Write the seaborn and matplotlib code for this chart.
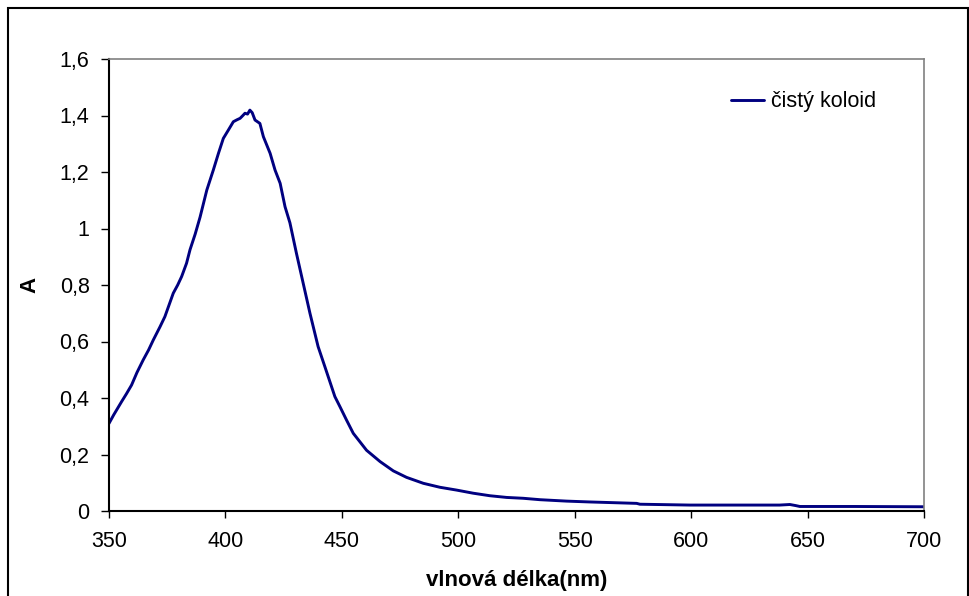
import matplotlib
matplotlib.use("Agg")
import matplotlib.pyplot as plt
from matplotlib.patches import Rectangle
from matplotlib.ticker import FixedLocator, FixedFormatter
import seaborn as sns
import pandas as pd

# Absorption spectrum of the pure colloid
wavelength_nm = [350, 352, 355.4, 357.5, 359.7, 362, 364.7, 367, 369, 371.9, 374,
                 377.6, 379.5, 381.2, 383.3, 384.8, 387, 389.1, 392, 394.8, 397, 399.1,
                 401.3, 403.4, 405, 406.3, 407.5, 408.4, 409.5, 410.5, 411.5, 412.7,
                 414.8, 416.3, 419.2, 421.3, 423.5, 425.6, 427.7, 430.5, 433.4,
                 436.3, 439.8, 442.7, 447, 449.2, 452, 454.9, 460.6, 466.4, 472.1,
                 477.8, 485, 492.1, 499.3, 506.4, 513.6, 520.8, 527.9, 535.1, 546.5,
                 556.5, 576.6, 578, 599.5, 620, 638, 642.4, 645, 646.7, 670, 700]
absorbance = [0.31, 0.34, 0.387, 0.415, 0.446, 0.49, 0.535, 0.57, 0.605, 0.652, 0.688,
              0.771, 0.80, 0.83, 0.877, 0.925, 0.98, 1.04, 1.136, 1.207, 1.266, 1.319,
              1.349, 1.378, 1.385, 1.39, 1.40, 1.408, 1.405, 1.419, 1.41, 1.384,
              1.372, 1.325, 1.266, 1.207, 1.160, 1.077, 1.02, 0.912, 0.806,
              0.700, 0.582, 0.511, 0.405, 0.369, 0.322, 0.275, 0.215, 0.175, 0.142,
              0.119, 0.098, 0.084, 0.074, 0.063, 0.054, 0.048, 0.045, 0.040, 0.035,
              0.032, 0.027, 0.024, 0.021, 0.021, 0.021, 0.023, 0.019, 0.016, 0.016, 0.015]
series_name = "čistý koloid"

x_ticks = [350, 400, 450, 500, 550, 600, 650, 700]
x_tick_labels = ["350", "400", "450", "500", "550", "600", "650", "700"]
y_ticks = [0, 0.2, 0.4, 0.6, 0.8, 1.0, 1.2, 1.4, 1.6]
y_tick_labels = ["0", "0,2", "0,4", "0,6", "0,8", "1", "1,2", "1,4", "1,6"]

df = pd.DataFrame({"vlnová délka(nm)": wavelength_nm, "A": absorbance,
                   "série": series_name})

sns.set_theme(style="white")
plt.rcParams["font.family"] = ["Liberation Sans", "DejaVu Sans"]
plt.rcParams["text.color"] = "black"
plt.rcParams["axes.labelcolor"] = "black"

fig = plt.figure(figsize=(9.7, 5.96), dpi=100)
ax = fig.add_axes([109 / 970, 1 - 511 / 596, (924 - 109) / 970, (511 - 59) / 596])

sns.lineplot(data=df, x="vlnová délka(nm)", y="A", hue="série",
             palette=["#000080"], linewidth=2.1, ax=ax, legend=True)

ax.set_xlim(350, 700)
ax.set_ylim(0, 1.6)
ax.xaxis.set_major_locator(FixedLocator(x_ticks))
ax.xaxis.set_major_formatter(FixedFormatter(x_tick_labels))
ax.yaxis.set_major_locator(FixedLocator(y_ticks))
ax.yaxis.set_major_formatter(FixedFormatter(y_tick_labels))

ax.tick_params(axis="y", direction="out", length=6, width=1, color="black",
               left=True, pad=8, labelsize=15.5, labelcolor="black")
ax.tick_params(axis="x", direction="out", length=5, width=1, color="black",
               bottom=True, pad=9.5, labelsize=15.5, labelcolor="black")

for side in ("left", "bottom"):
    ax.spines[side].set_color("black")
    ax.spines[side].set_linewidth(1.5)
for side in ("top", "right"):
    ax.spines[side].set_color("#808080")
    ax.spines[side].set_linewidth(1.2)

ax.set_xlabel("vlnová délka(nm)", fontsize=16, fontweight="bold", color="black",
              labelpad=13)
ax.set_ylabel("A", fontsize=16, fontweight="bold", color="black", labelpad=14)

leg = ax.legend(loc="center left",
                bbox_to_anchor=((731 - 109) / 815, (511 - 102) / 452),
                frameon=False, fontsize=15.5, handlelength=1.55,
                handletextpad=0.33, borderpad=0, borderaxespad=0,
                labelcolor="black")
for line in leg.get_lines():
    line.set_linewidth(2.1)

# Outer chart frame
fig.patches.append(Rectangle((8 / 970, -0.01), (968 - 8) / 970, 1 - 8 / 596 + 0.01,
                             transform=fig.transFigure, fill=False,
                             edgecolor="black", linewidth=1.5, zorder=0))

fig.savefig("out.png", dpi=100, facecolor="white")
